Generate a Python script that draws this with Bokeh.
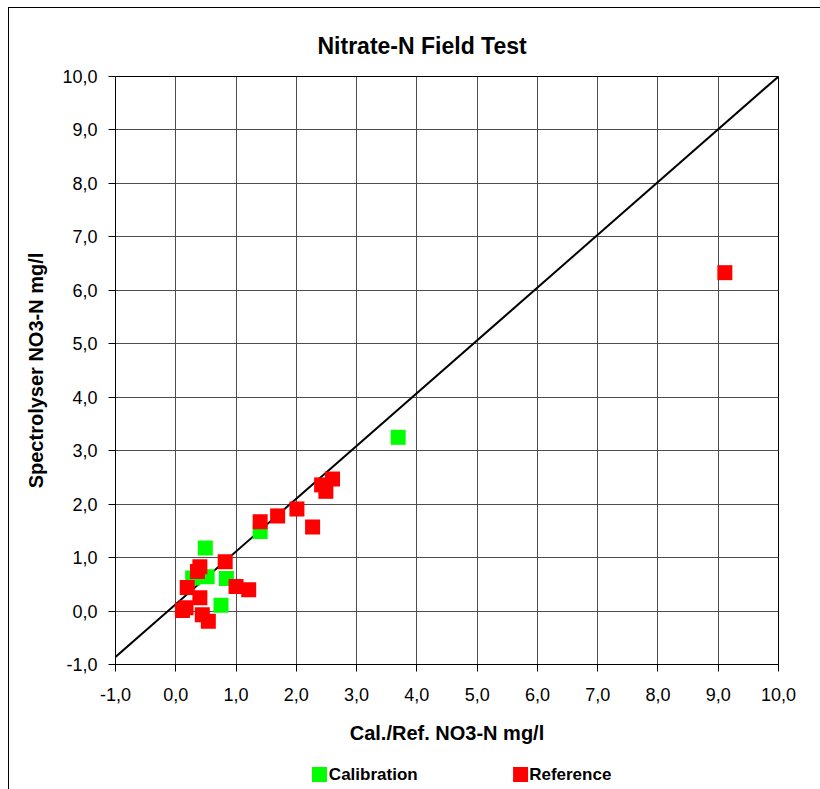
from bokeh.plotting import figure
from bokeh.models import FixedTicker, Range1d
from bokeh.layouts import column
from bokeh.core.properties import value
from bokeh.embed import file_html
from bokeh.resources import INLINE

# ---- data ----
cal_x = [3.69, 0.49, 1.40, 0.84, 0.75, 0.52, 0.28]
cal_y = [3.25, 1.18, 1.49, 0.61, 0.11, 0.64, 0.62]

ref_x = [9.11, 2.60, 2.42, 2.49, 2.01, 1.69, 1.40, 2.27, 0.82, 0.40, 0.36,
         1.00, 1.21, 0.19, 0.40, 0.17, 0.11, 0.44, 0.54]
ref_y = [6.33, 2.47, 2.36, 2.24, 1.91, 1.78, 1.67, 1.57, 0.92, 0.83, 0.74,
         0.46, 0.40, 0.44, 0.25, 0.06, 0.01, -0.07, -0.19]

line_x = [-1.0, 10.0]
line_y = [-0.86, 10.0]

tick_values = [-1, 0, 1, 2, 3, 4, 5, 6, 7, 8, 9, 10]
tick_labels = ["-1,0", "0,0", "1,0", "2,0", "3,0", "4,0", "5,0", "6,0",
               "7,0", "8,0", "9,0", "10,0"]

series_names = ["Calibration", "Reference"]
series_colors = ["#00ff00", "#ff0000"]

FONT = "Liberation Sans"

p = figure(frame_width=663, frame_height=588, output_backend="svg", toolbar_location=None,
           x_range=Range1d(-1, 10), y_range=Range1d(-1, 10),
           min_border_left=106, min_border_right=42,
           min_border_top=68, min_border_bottom=90,
           title="Nitrate-N Field Test", align="start")

p.title.text_font = FONT
p.title.text_font_size = "23px"
p.title.text_font_style = "bold"
p.title.text_color = "black"
p.title.align = "left"
p.title.offset = 202
p.title.standoff = 35

p.outline_line_color = "black"
p.outline_line_width = 1
p.background_fill_color = "white"
p.border_fill_color = "white"

labels = {v: s for v, s in zip(tick_values, tick_labels)}
for ax in (p.xaxis[0], p.yaxis[0]):
    ax.ticker = FixedTicker(ticks=tick_values)
    ax.major_label_overrides = labels
    ax.major_label_text_font = FONT
    ax.major_label_text_font_size = "18px"
    ax.major_label_text_color = "black"
    ax.axis_line_color = "black"
    ax.major_tick_line_color = "black"
    ax.major_tick_out = 7
    ax.major_tick_in = 0
    ax.minor_tick_line_color = None
    ax.axis_label_text_font = FONT
    ax.axis_label_text_font_size = "20px"
    ax.axis_label_text_font_style = "bold"
    ax.axis_label_text_color = "black"

p.xaxis.axis_label = "Cal./Ref. NO3-N mg/l"
p.yaxis.axis_label = "Spectrolyser NO3-N mg/l"
p.xaxis.major_label_standoff = 16
p.yaxis.major_label_standoff = 11
p.xaxis.axis_label_standoff = 18
p.yaxis.axis_label_standoff = 12

p.xgrid.grid_line_color = "#4d4d4d"
p.ygrid.grid_line_color = "#4d4d4d"
p.xgrid.ticker = FixedTicker(ticks=tick_values)
p.ygrid.ticker = FixedTicker(ticks=tick_values)

p.line(line_x, line_y, line_color="black", line_width=2)

p.scatter(cal_x, cal_y, marker="square", size=15, fill_color=series_colors[0], line_color=None)
p.scatter(ref_x, ref_y, marker="square", size=15, fill_color=series_colors[1], line_color=None)

# ---- legend strip (pixel-coordinate figure, no axes) ----
LW, LH = 811, 35
leg = figure(width=LW, height=LH, output_backend="svg", toolbar_location=None,
             x_range=Range1d(0, LW), y_range=Range1d(0, LH),
             x_axis_location=None, y_axis_location=None,
             min_border=0, min_border_left=0, min_border_right=0,
             min_border_top=0, min_border_bottom=0, align="start")
leg.grid.visible = False
leg.outline_line_color = None
leg.border_fill_color = "white"

swatch_x = [249.5, 495.5]
label_x = [261, 506]
row_y = [15, 15]
leg.scatter(swatch_x, row_y, marker="square", size=15, fill_color=series_colors, line_color=None)
leg.text(label_x, row_y, text=series_names, text_font=value(FONT), text_font_size="17px",
         text_font_style="bold", text_baseline="middle", text_align="left", text_color="black")

layout = column(p, leg, spacing=0,
                styles={"margin-left": "8px", "margin-top": "7px",
                        "border-left": "1px solid black", "border-top": "1px solid black"})

open("out.html", "w").write(file_html(layout, INLINE))
